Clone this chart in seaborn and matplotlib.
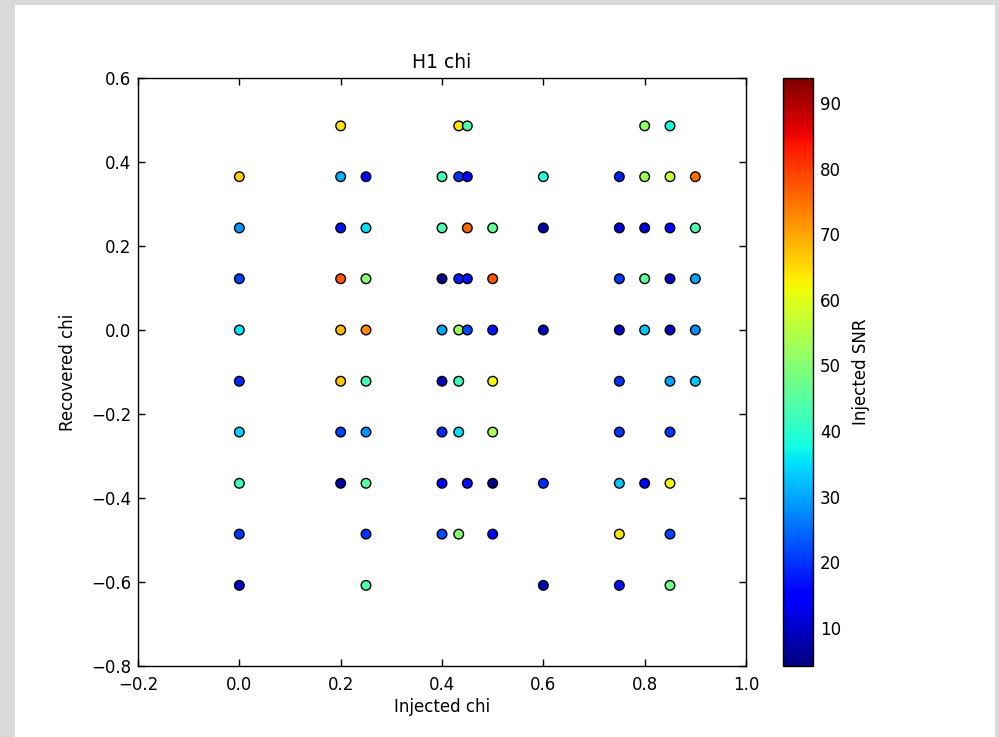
import numpy as np
import pandas as pd
import matplotlib
matplotlib.use("Agg")
import matplotlib.pyplot as plt
from matplotlib.patches import Rectangle
from matplotlib.colors import Normalize
from matplotlib.cm import ScalarMappable
import seaborn as sns

# Injected spin, recovered spin and injected SNR for each injection, grouped by injected chi
inj_00 = [0.0] * 9
rec_00 = [0.365, 0.243, 0.122, 0.0, -0.122, -0.243, -0.365, -0.486, -0.608]
snr_00 = [66, 29, 21, 36, 19, 34, 42, 20, 10]

inj_20 = [0.2] * 8
rec_20 = [0.486, 0.365, 0.243, 0.122, 0.0, -0.122, -0.243, -0.365]
snr_20 = [64, 31, 17, 77, 68, 67, 21, 7]

inj_25 = [0.25] * 9
rec_25 = [0.365, 0.243, 0.122, 0.0, -0.122, -0.243, -0.365, -0.486, -0.608]
snr_25 = [15, 35, 51, 73, 43, 28, 45, 20, 44]

inj_40 = [0.4] * 8
rec_40 = [0.365, 0.243, 0.122, 0.0, -0.122, -0.243, -0.365, -0.486]
snr_40 = [43, 44, 5, 30, 9, 19, 16, 22]

inj_43 = [0.433] * 7
rec_43 = [0.486, 0.365, 0.122, 0.0, -0.122, -0.243, -0.486]
snr_43 = [64, 20, 18, 52, 42, 35, 50]

inj_45 = [0.45] * 6
rec_45 = [0.486, 0.365, 0.243, 0.122, 0.0, -0.365]
snr_45 = [44, 15, 76, 17, 22, 17]

inj_50 = [0.5] * 7
rec_50 = [0.243, 0.122, 0.0, -0.122, -0.243, -0.365, -0.486]
snr_50 = [46, 78, 17, 62, 53, 5, 16]

inj_60 = [0.6] * 5
rec_60 = [0.365, 0.243, 0.0, -0.365, -0.608]
snr_60 = [39, 8, 9, 19, 9]

inj_75 = [0.75] * 9
rec_75 = [0.365, 0.243, 0.122, 0.0, -0.122, -0.243, -0.365, -0.486, -0.608]
snr_75 = [18, 12, 20, 10, 20, 20, 33, 64, 17]

inj_80 = [0.8] * 6
rec_80 = [0.486, 0.365, 0.243, 0.122, 0.0, -0.365]
snr_80 = [51, 53, 12, 46, 33, 15]

inj_85 = [0.85] * 10
rec_85 = [0.486, 0.365, 0.243, 0.122, 0.0, -0.122, -0.243, -0.365, -0.486, -0.608]
snr_85 = [38, 57, 16, 10, 9, 30, 20, 62, 21, 47]

inj_90 = [0.9] * 5
rec_90 = [0.365, 0.243, 0.122, 0.0, -0.122]
snr_90 = [75, 44, 30, 28, 33]

snr_range = (4.2, 93.8)
x_ticks = [-0.2, 0.0, 0.2, 0.4, 0.6, 0.8, 1.0]
y_ticks = [-0.8, -0.6, -0.4, -0.2, 0.0, 0.2, 0.4, 0.6]
cbar_ticks = [10, 20, 30, 40, 50, 60, 70, 80, 90]

df = pd.DataFrame({
    "injected": inj_00 + inj_20 + inj_25 + inj_40 + inj_43 + inj_45 + inj_50
                + inj_60 + inj_75 + inj_80 + inj_85 + inj_90,
    "recovered": rec_00 + rec_20 + rec_25 + rec_40 + rec_43 + rec_45 + rec_50
                 + rec_60 + rec_75 + rec_80 + rec_85 + rec_90,
    "snr": snr_00 + snr_20 + snr_25 + snr_40 + snr_43 + snr_45 + snr_50
           + snr_60 + snr_75 + snr_80 + snr_85 + snr_90,
})

sns.set_style("ticks")
plt.rcParams["font.family"] = ["DejaVu Sans"]
plt.rcParams["axes.unicode_minus"] = True
plt.rcParams["text.color"] = "black"
plt.rcParams["axes.labelcolor"] = "black"
plt.rcParams["xtick.color"] = "black"
plt.rcParams["ytick.color"] = "black"

jet = matplotlib.colormaps["jet"]

W, H = 999, 737
fig = plt.figure(figsize=(W / 100, H / 100), dpi=100, facecolor="#d9d9d9")
# white page on a light grey backdrop
fig.patches.append(Rectangle((15 / W, 0), (995 - 15) / W, (H - 5) / H,
                             transform=fig.transFigure, facecolor="white",
                             edgecolor="none", zorder=-10))

ax = fig.add_axes([138 / W, (H - 666) / H, 608 / W, 588 / H])
norm = Normalize(*snr_range)
sns.scatterplot(data=df, x="injected", y="recovered", hue="snr", palette=jet,
                hue_norm=norm, s=48, edgecolor="black", linewidth=1.0,
                legend=False, ax=ax, zorder=3)

ax.set_xlim(-0.2, 1.0)
ax.set_ylim(-0.8, 0.6)
ax.set_xticks(x_ticks)
ax.set_yticks(y_ticks)
ax.set_xticklabels([f"{v:.1f}".replace("-", "\u2212") for v in x_ticks])
ax.set_yticklabels([f"{v:.1f}".replace("-", "\u2212") for v in y_ticks])
ax.tick_params(direction="in", length=5, width=1, top=True, right=True,
               labelsize=12, color="black", labelcolor="black")
ax.tick_params(axis="x", pad=7)
ax.tick_params(axis="y", pad=5)
for sp in ax.spines.values():
    sp.set_color("black")
    sp.set_linewidth(1.0)
ax.set_xlabel("Injected chi", fontsize=12, labelpad=3)
ax.set_ylabel("Recovered chi", fontsize=12, labelpad=10)
ax.set_title("H1 chi", fontsize=13.5, pad=7, color="black")

cax = fig.add_axes([783 / W, (H - 666) / H, 30 / W, 588 / H])
sm = ScalarMappable(norm=norm, cmap=jet)
cb = fig.colorbar(sm, cax=cax)
cb.set_ticks(cbar_ticks)
cb.ax.tick_params(direction="in", length=5, width=1, labelsize=12,
                  color="black", labelcolor="black", pad=5)
cb.outline.set_edgecolor("black")
cb.outline.set_linewidth(1.0)
cb.set_label("Injected SNR", fontsize=12, labelpad=8, color="black")

fig.savefig("out.png", dpi=100, facecolor=fig.get_facecolor())
